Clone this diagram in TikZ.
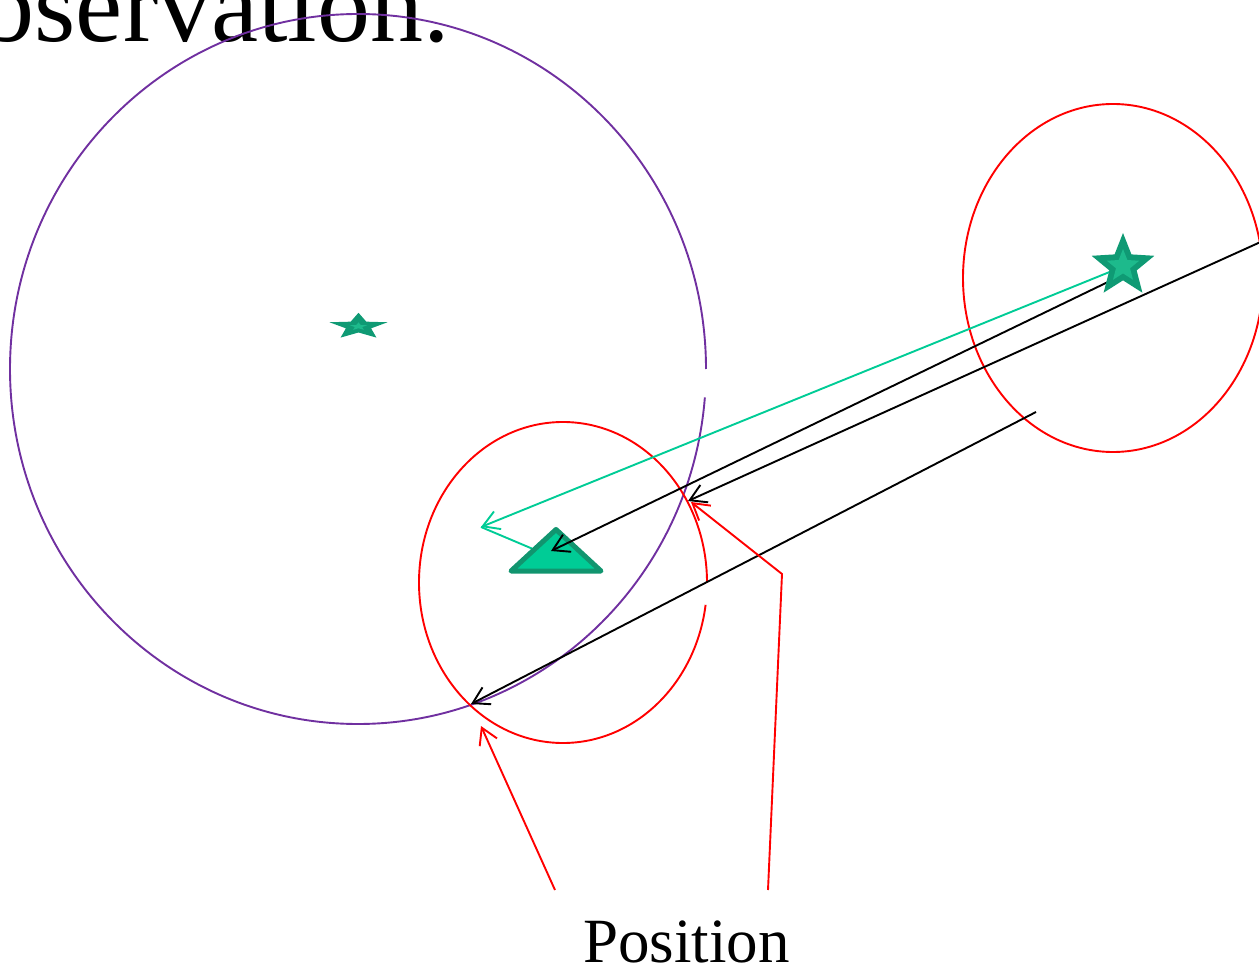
\documentclass[tikz,border=0pt]{standalone}
\usepackage{fontspec}
\setmainfont{Liberation Serif}
\usetikzlibrary{shapes.geometric,arrows.meta}
\definecolor{purp}{HTML}{7030A0}
\definecolor{gline}{HTML}{00CC96}
\definecolor{gdark}{HTML}{0F9A74}
\definecolor{glight}{HTML}{1DBA8C}
\definecolor{tfill}{HTML}{00CC96}
\definecolor{tedge}{HTML}{11956F}
\tikzset{
  ln/.style={line width=1.9pt},
  arr/.style={ln,-{Straight Barb[length=16pt,width=19pt,line width=1.9pt]}},
  starout/.style={star,star points=5,star point ratio=2.3,fill=gdark,draw=none,inner sep=0pt},
  starin/.style={star,star points=5,star point ratio=2.3,fill=glight,draw=none,inner sep=0pt},
  lbl/.style={inner sep=0pt,font=\fontsize{63}{70}\selectfont}
}
\begin{document}
\begin{tikzpicture}[x=1pt,y=1pt]
\useasboundingbox (0,0) rectangle (1259,-968);
% title text
\node[inner sep=0pt,anchor=base east,font=\fontsize{106}{110}\selectfont] (title) at (450,-42) {observation.};
% big purple circle with small gap
\draw[purp,ln] (706,-369) arc[start angle=0,end angle=355.4,x radius=348,y radius=355];
% red ellipses
\draw[red,ln] (707,-582.5) arc[start angle=0,end angle=352,x radius=144,y radius=160.5];
\draw[red,ln] (1113,-278) ellipse[x radius=150,y radius=174];
% coordinates
\coordinate (bigstar) at (1123,-266);
\coordinate (gcorner) at (481,-527);
\coordinate (gend) at (533,-549);
\coordinate (b1s) at (1110,-281);
\coordinate (b1e) at (551,-551);
\coordinate (b2s) at (1265,-240);
\coordinate (b2e) at (688,-501);
\coordinate (b3s) at (1036,-412);
\coordinate (b3e) at (471,-704);
\coordinate (r1s) at (555,-890);
\coordinate (r1e) at (481,-726);
\coordinate (r2s) at (768,-890);
\coordinate (r2m) at (782,-574);
\coordinate (r2e) at (691,-502);
% green arrow
\draw[gline,arr] (1112,-271) -- (gcorner);
\draw[gline,ln] (gcorner) -- (gend);
% triangle
\draw[fill=tfill,draw=tedge,line width=5pt,line join=round] (556,-529.5) -- (511,-571) -- (601,-571) -- cycle;
% black arrows
\draw[black,arr] (b1s) -- (b1e);
\draw[black,arr] (b2s) -- (b2e);
\draw[black,arr] (b3s) -- (b3e);
% stars
\node[starout,minimum size=66pt] (s2) at (bigstar) {};
\node[starin,minimum size=34pt] (s2i) at (bigstar) {};
\begin{scope}[shift={(358.5,-326.5)},yscale=0.45]
\node[starout,minimum size=61pt,transform shape] (s1) at (0,0) {};
\node[starin,minimum size=18pt,transform shape] (s1i) at (0,0) {};
\end{scope}
% red arrows
\draw[red,arr] (r1s) -- (r1e);
\draw[red,arr,line join=miter] (r2s) -- (r2m) -- (r2e);
% label
\node[lbl,anchor=base] (pos) at (686.5,-962) {Position};
\end{tikzpicture}
\end{document}
